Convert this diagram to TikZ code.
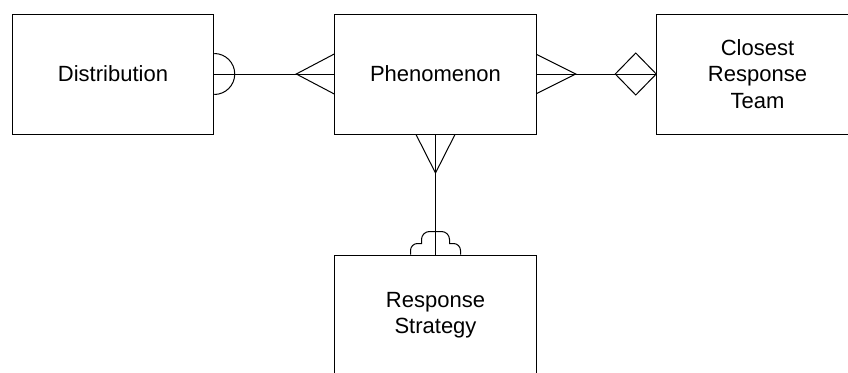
\documentclass[tikz,border=0pt]{standalone}
\usepackage{fontspec}
\setmainfont{Liberation Sans}
\begin{document}
\begin{tikzpicture}[x=1pt,y=1pt,
  entity/.style={draw, line width=1pt, minimum width=201.5pt, minimum height=120pt,
    inner sep=0pt, align=center, font=\fontsize{22}{26.5}\selectfont},
  rel/.style={line width=1pt, line join=miter}]
\useasboundingbox (0,0) rectangle (848,-372);

% entities
\node[entity] (dist)  at (113,-74)    {Distribution};
\node[entity] (phen)  at (435.5,-74)  {Phenomenon};
\node[entity] (team)  at (757.5,-74)  {Closest\\Response\\Team};
\node[entity] (strat) at (435.5,-315) {Response\\Strategy};

% Distribution -- Phenomenon
\draw[rel] (dist.east) -- (phen.west);
\draw[rel] (dist.east) ++(0,20.5) arc(90:-90:20.5);
\draw[rel] (phen.west) ++(0,20) -- ++(-38,-20) -- ++(38,-20);

% Phenomenon -- Closest Response Team
\draw[rel] (phen.east) -- (team.west);
\draw[rel] (phen.east) ++(0,19.5) -- ++(39,-19.5) -- ++(-39,-19.5);
\draw[rel] (team.west) -- ++(-20.5,21) -- ++(-20.5,-21) -- ++(20.5,-21) -- cycle;

% Phenomenon -- Response Strategy
\draw[rel] (phen.south) -- (strat.north);
\draw[rel] (phen.south) ++(-19.5,0) -- ++(19.5,-38.5) -- ++(19.5,38.5);
\draw[rel] (strat.north) ++(-25,0) -- ++(0,4) arc(180:90:7) -- ++(4,0) -- ++(0,4)
  arc(180:90:8) -- ++(12,0) arc(90:0:8) -- ++(0,-4) -- ++(4,0) arc(90:0:7) -- ++(0,-4);
\end{tikzpicture}
\end{document}
